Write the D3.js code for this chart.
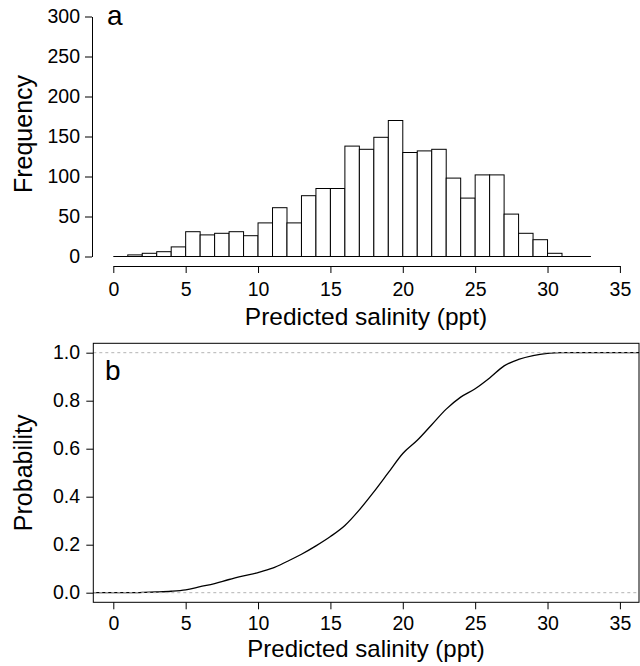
<!doctype html>
<html>
<head>
<meta charset="utf-8" />
<script src="https://d3js.org/d3.v7.min.js"></script>
<style>
  body { margin: 0; background: #fff; }
  svg text { font-family: "Liberation Sans", Arial, Helvetica, sans-serif; fill: #000; }
  .tick text { font-size: 19.5px; }
  .axis path, .axis line { stroke: #000; stroke-width: 1; }
</style>
</head>
<body>
<script>
// histogram bins (lower edge, width 1) and counts
var binLo = [0,1,2,3,4,5,6,7,8,9,10,11,12,13,14,15,16,17,18,19,20,21,22,23,24,25,26,27,28,29,30,31,32];
var counts = [0,2,4,6,12,31,27,29,31,26,42,61,42,76,85,85,138,134,149,170,130,132,134,98,73,102,102,53,29,21,4,0,0];

var ecdfX = [1.5,2,3,4,5,6,7,8,9,10,11,12,13,14,15,16,17,18,19,20,21,22,23,24,25,26,27,28,29,30,31];
var ecdfP = [0,0.001,0.003,0.006,0.012,0.025,0.038,0.055,0.07,0.084,0.102,0.13,0.16,0.195,0.234,0.28,0.345,0.42,0.5,0.58,0.635,0.70,0.765,0.815,0.85,0.895,0.945,0.972,0.988,0.997,1.0];

var xTicks = [0,5,10,15,20,25,30,35];
var freqTicks = [0,50,100,150,200,250,300];
var probTicks = [0,0.2,0.4,0.6,0.8,1.0];

var svg = d3.select("body").append("svg").attr("width", 640).attr("height", 666);

// ---- panel a ----
var xA = d3.scaleLinear().domain([0,35]).range([113.3, 619.9]);
var yA = d3.scaleLinear().domain([0,300]).range([256.5, 16.5]);

var bins = binLo.map(function(d, i) { return {lo: d, hi: d + 1, n: counts[i]}; });

svg.append("line")
  .attr("x1", xA(bins[0].lo)).attr("x2", xA(bins[bins.length-1].hi))
  .attr("y1", yA(0)).attr("y2", yA(0))
  .attr("stroke", "#000");

svg.selectAll("rect.bar")
  .data(bins.filter(function(d){ return d.n > 0; }))
  .enter().append("rect")
  .attr("class", "bar")
  .attr("x", function(d){ return xA(d.lo); })
  .attr("width", function(d){ return xA(d.hi) - xA(d.lo); })
  .attr("y", function(d){ return yA(d.n); })
  .attr("height", function(d){ return yA(0) - yA(d.n); })
  .attr("fill", "#fff")
  .attr("stroke", "#000")
  .attr("stroke-width", 1);

svg.append("g").attr("class", "axis")
  .attr("transform", "translate(0,266)")
  .call(d3.axisBottom(xA).tickValues(xTicks).tickSize(7).tickSizeOuter(0).tickPadding(9.5));

svg.append("g").attr("class", "axis")
  .attr("transform", "translate(92,0)")
  .call(d3.axisLeft(yA).tickValues(freqTicks).tickSize(7).tickSizeOuter(0).tickPadding(5));

svg.append("text").attr("x", 107).attr("y", 25).style("font-size", "28px").text("a");

svg.append("text").attr("x", 366).attr("y", 325).attr("text-anchor", "middle")
  .style("font-size", "24.5px").text("Predicted salinity (ppt)");

svg.append("text").attr("transform", "translate(32,134) rotate(-90)")
  .attr("text-anchor", "middle").style("font-size", "25px").text("Frequency");

// ---- panel b ----
var boxL = 93.3, boxR = 639, boxT = 343.3, boxB = 602.3;
var xB = d3.scaleLinear().domain([0,35]).range([113.3, 619.9]);
var yB = d3.scaleLinear().domain([0,1]).range([592.7, 352.7]);

var pts = ecdfX.map(function(d, i){ return [d, ecdfP[i]]; });
pts.unshift([xB.invert(boxL), 0]);
pts.push([xB.invert(boxR), 1]);

svg.append("path")
  .datum(pts)
  .attr("d", d3.line().curve(d3.curveMonotoneX)
    .x(function(d){ return xB(d[0]); }).y(function(d){ return yB(d[1]); }))
  .attr("fill", "none")
  .attr("stroke", "#000")
  .attr("stroke-width", 1.3);

svg.selectAll("line.ref")
  .data([0, 1])
  .enter().append("line")
  .attr("class", "ref")
  .attr("x1", boxL).attr("x2", boxR)
  .attr("y1", function(d){ return yB(d); }).attr("y2", function(d){ return yB(d); })
  .attr("stroke", "#b3b3b3")
  .attr("stroke-dasharray", "3,3");

svg.append("rect")
  .attr("x", boxL).attr("y", boxT)
  .attr("width", boxR - boxL).attr("height", boxB - boxT)
  .attr("fill", "none").attr("stroke", "#000");

var gxb = svg.append("g").attr("class", "axis")
  .attr("transform", "translate(0," + boxB + ")")
  .call(d3.axisBottom(xB).tickValues(xTicks).tickSize(7).tickSizeOuter(0).tickPadding(7));
gxb.select(".domain").remove();

var gyb = svg.append("g").attr("class", "axis")
  .attr("transform", "translate(" + boxL + ",0)")
  .call(d3.axisLeft(yB).tickValues(probTicks).tickFormat(d3.format(".1f")).tickSize(7).tickSizeOuter(0).tickPadding(6.3));
gyb.select(".domain").remove();

svg.append("text").attr("x", 105).attr("y", 380).style("font-size", "28px").text("b");

svg.append("text").attr("x", 366).attr("y", 656.5).attr("text-anchor", "middle")
  .style("font-size", "24px").text("Predicted salinity (ppt)");

svg.append("text").attr("transform", "translate(32," + ((boxT + boxB) / 2) + ") rotate(-90)")
  .attr("text-anchor", "middle").style("font-size", "25px").text("Probability");
</script>
</body>
</html>
